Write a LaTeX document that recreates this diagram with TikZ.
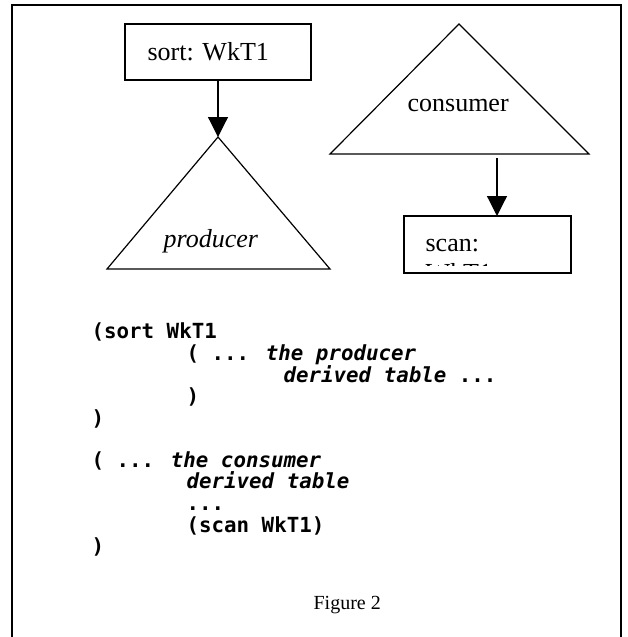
\documentclass[tikz,border=0pt]{standalone}
\usepackage{fontspec}
\setmainfont{Liberation Serif}
\newfontfamily\codefont{DejaVu Sans Mono}
\usetikzlibrary{arrows.meta}

\begin{document}
\begin{tikzpicture}[
  x=1pt, y=-1pt,
  line width=1.2pt,
  box/.style={draw, rectangle, inner sep=0pt, outer sep=0pt},
  txt/.style={anchor=base west, inner sep=0pt, font=\fontsize{26}{30}\selectfont},
  code/.style={anchor=base west, inner sep=0pt, font=\codefont\bfseries\fontsize{20.8}{24}\selectfont},
  arr/.style={-{Triangle[length=20pt, width=20pt]}}
]
\useasboundingbox (0,0) rectangle (628,637);
\draw[line width=1.6pt] (12,637) -- (12,5) -- (621,5) -- (621,637);

% producer side
\node[box, minimum width=186pt, minimum height=56pt, anchor=north west] (sort) at (125,24) {};
\node[txt] (sortlbl) at (147,60) {sort: WkT1};
\coordinate (prodtop) at (218,137);
\draw (prodtop) -- (330,269) -- (107,269) -- cycle;
\node[txt, font=\fontsize{26}{30}\selectfont\itshape] (prodlbl) at (163,247) {producer};
\draw[arr] (sort.south) -- (prodtop);

% consumer side
\coordinate (contop) at (459,24);
\draw (contop) -- (589,154) -- (330,154) -- cycle;
\node[txt] (conlbl) at (407,111) {consumer};
\coordinate (conbot) at (497,158);
\node[box, minimum width=167pt, minimum height=57pt, anchor=north west] (scan) at (404,216) {};
\node[txt] (scanlbl) at (425,251) {scan:};
\begin{scope}
  \clip (404,216) rectangle (571,265);
  \node[txt] (scanrest) at (425,281) {WkT1};
\end{scope}
\draw[arr] (conbot) -- (conbot |- scan.north);

% query text
\node[code] (q1) at (91,338) {(sort WkT1};
\node[code] (q2) at (186,360) {( ... \textit{the producer}};
\node[code] (q3) at (283,382) {\textit{derived table} ...};
\node[code] (q4) at (186,403) {)};
\node[code] (q5) at (91,425) {)};
\node[code] (q6) at (91,467) {( ... \textit{the consumer}};
\node[code] (q7) at (186,488) {\textit{derived table}};
\node[code] (q8) at (186,510) {...};
\node[code] (q9) at (186,532) {(scan WkT1)};
\node[code] (q10) at (91,553) {)};

\node[txt, font=\fontsize{20}{24}\selectfont] (caption) at (313,609) {Figure 2};
\end{tikzpicture}
\end{document}
